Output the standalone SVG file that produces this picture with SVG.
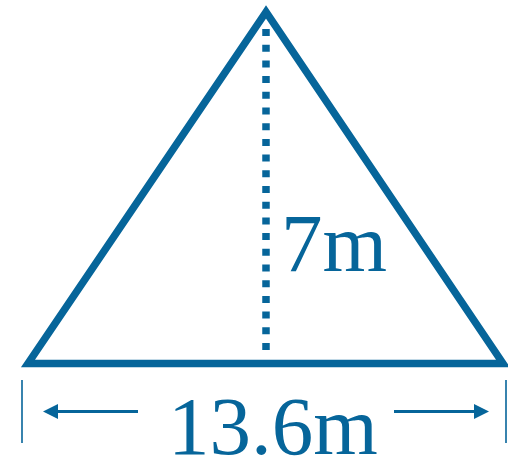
<svg xmlns="http://www.w3.org/2000/svg" width="508" height="460" viewBox="0 0 508 460">
<style>
.c{fill:#06659a;}
.s{stroke:#06659a;fill:none;}
.t{font-family:"Liberation Serif","Times New Roman",serif;font-size:83px;fill:#06659a;}
</style>
<rect width="508" height="460" fill="#ffffff"/>
<g id="triangle">
<polygon class="s" points="266,12 28,363.5 503,363.5" stroke-width="7.5" stroke-linejoin="miter" stroke-miterlimit="10"/>
</g>
<g id="height">
<line class="s" x1="266" y1="29" x2="266" y2="356" stroke-width="7.5" stroke-dasharray="7 8.7"/>
<text class="t" x="281" y="271">7m</text>
</g>
<g id="connectors">
<line class="s" x1="22" y1="380" x2="22" y2="443" stroke-width="1.6"/>
<line class="s" x1="506" y1="380" x2="506" y2="443" stroke-width="1.6"/>
<line class="s" x1="56" y1="411.5" x2="138" y2="411.5" stroke-width="3"/>
<polygon class="c" points="43,411.5 58,404 58,419"/>
<line class="s" x1="394" y1="411.5" x2="476" y2="411.5" stroke-width="3"/>
<polygon class="c" points="489,411.5 474,404 474,419"/>
</g>
<g id="width">
<text class="t" x="168" y="454">13.6m</text>
</g>
</svg>
